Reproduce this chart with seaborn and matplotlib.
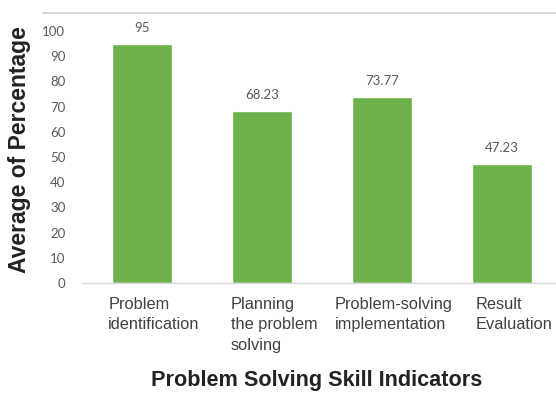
import matplotlib
matplotlib.use("Agg")
import matplotlib.pyplot as plt
import matplotlib.transforms as mtransforms
from matplotlib.lines import Line2D
import seaborn as sns
import pandas as pd

categories = ["Problem\nidentification", "Planning\nthe problem\nsolving",
              "Problem-solving\nimplementation", "Result\nEvaluation"]
values = [95, 68.23, 73.77, 47.23]
value_labels = ["95", "68.23", "73.77", "47.23"]
yticks = [0, 10, 20, 30, 40, 50, 60, 70, 80, 90, 100]

sns.set_style("white")
plt.rcParams["font.family"] = ["Liberation Sans", "DejaVu Sans"]

df = pd.DataFrame({"Indicator": categories, "Average": values})

fig = plt.figure(figsize=(5.56, 3.93), dpi=100)
ax = fig.add_axes([82/556, 1-283/393, 1-82/556, (283-13)/393])

sns.barplot(data=df, x="Indicator", y="Average", color="#6CB14A",
            saturation=1, width=0.5, ax=ax)

ax.set_xlim(-0.5, 3.45)
ax.set_ylim(0, 107.1)
ax.set_yticks(yticks)
ax.set_yticklabels([str(t) for t in yticks], fontfamily="Lato", fontsize=9.5, color="#595959")
ax.tick_params(axis="y", length=0, pad=12)
ax.tick_params(axis="x", length=0, pad=10)

for lbl in ax.get_xticklabels():
    lbl.set_fontsize(11.8)
    lbl.set_color("#404040")
    lbl.set_ha("center")
    lbl.set_multialignment("left")
    lbl.set_linespacing(1.45)
    lbl.set_transform(lbl.get_transform() + mtransforms.ScaledTranslation(12/100, 0, fig.dpi_scale_trans))

for i, (v, t) in enumerate(zip(values, value_labels)):
    ax.annotate(t, (i, v), xytext=(0, 7), textcoords="offset points",
                ha="center", va="bottom", fontfamily="Lato", fontsize=9.5, color="#595959")

for s in ["top", "right", "left"]:
    ax.spines[s].set_visible(False)
ax.spines["bottom"].set_color("#d9d9d9")
ax.spines["bottom"].set_linewidth(1)

ax.set_xlabel("Problem Solving Skill Indicators", fontsize=15.6, fontweight="bold", color="#222222")
ax.xaxis.set_label_coords((317-82)/474, -(370-283)/270)
ax.set_ylabel("Average of Percentage", fontsize=16.5, fontweight="bold", color="#222222")
ax.yaxis.set_label_coords((31-82)/474, (283-150)/270)

fig.add_artist(Line2D([43/556, 1], [1-13/393, 1-13/393], color="#d0d0d0", lw=1.2))

fig.savefig("out.png", dpi=100)
